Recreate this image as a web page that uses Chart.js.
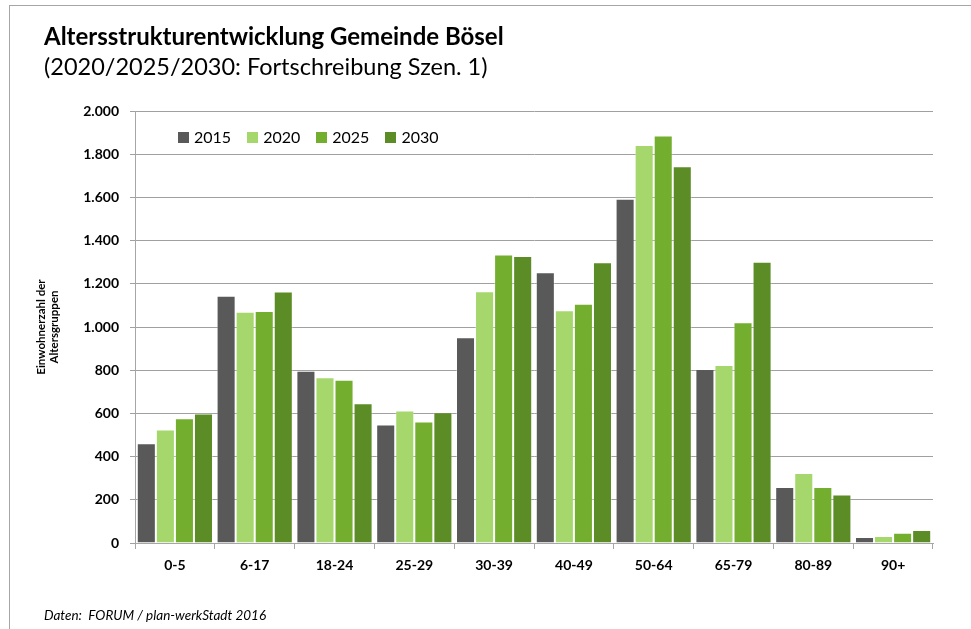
<!DOCTYPE html>
<html>
<head>
<meta charset="utf-8">
<script src="https://cdn.jsdelivr.net/npm/chart.js@4"></script>
<style>
  body { margin: 0; background: #fff; font-family: Lato, "Open Sans", sans-serif; }
  #wrap { position: relative; width: 971px; height: 629px; overflow: hidden; }
  #frame { position: absolute; left: 9px; top: 5px; width: 980px; height: 640px;
           border-left: 1px solid #a6a6a6; border-top: 1px solid #a6a6a6; }
  #title { position: absolute; left: 44px; top: 21px; font-size: 24px; font-weight: bold; color: #000; }
  #subtitle { position: absolute; left: 44px; top: 52px; font-size: 23.5px; color: #000; }
  #legend { position: absolute; left: 178px; top: 127px; font-size: 16px; color: #000; }
  #legend span.item { display: inline-block; margin-right: 16px; }
  #legend span.box { display: inline-block; width: 11px; height: 11px; margin-right: 5px; vertical-align: 0px; }
  #source { position: absolute; left: 44px; top: 607px; font-size: 13.5px; font-style: italic; color: #000; }
  canvas { position: absolute; left: 0; top: 0; }
</style>
</head>
<body>
<div id="wrap">
  <div id="frame"></div>
  <canvas id="chart" width="971" height="629"></canvas>
  <div id="title">Altersstrukturentwicklung Gemeinde Bösel</div>
  <div id="subtitle">(2020/2025/2030: Fortschreibung Szen. 1)</div>
  <div id="legend"></div>
  <div id="source">Daten:&nbsp; FORUM / plan-werkStadt 2016</div>
</div>
<script>
const ageGroups = ['0-5', '6-17', '18-24', '25-29', '30-39', '40-49', '50-64', '65-79', '80-89', '90+'];
const years = ['2015', '2020', '2025', '2030'];
const values2015 = [462, 1145, 798, 549, 952, 1253, 1594, 806, 259, 28];
const values2020 = [526, 1071, 767, 614, 1165, 1077, 1843, 824, 324, 32];
const values2025 = [577, 1074, 756, 562, 1336, 1108, 1886, 1022, 259, 48];
const values2030 = [599, 1164, 647, 605, 1329, 1300, 1744, 1302, 225, 60];
const colors = ['#595959', '#a5d76c', '#73ae2f', '#5b8c25'];

const seriesValues = [values2015, values2020, values2025, values2030];

// legend as html, drawn inside the plot area
const legend = document.getElementById('legend');
years.forEach(function(year, i) {
    const item = document.createElement('span');
    item.className = 'item';
    const box = document.createElement('span');
    box.className = 'box';
    box.style.background = colors[i];
    item.appendChild(box);
    item.appendChild(document.createTextNode(year));
    legend.appendChild(item);
});

const ctx = document.getElementById('chart').getContext('2d');
new Chart(ctx, {
    type: 'bar',
    data: {
        labels: ageGroups,
        datasets: years.map(function(year, i) {
            return {
                label: year,
                data: seriesValues[i],
                backgroundColor: colors[i],
                borderColor: 'rgba(255,255,255,0.35)',
                borderWidth: 1,
                barPercentage: 1.0,
                categoryPercentage: 0.955
            };
        })
    },
    options: {
        responsive: false,
        animation: false,
        locale: 'de-DE',
        layout: { padding: { left: 34, right: 38, top: 111, bottom: 0 } },
        plugins: {
            legend: { display: false },
            tooltip: { enabled: false }
        },
        scales: {
            x: {
                grid: { drawOnChartArea: false, drawTicks: true, tickLength: 6, color: '#a6a6a6' },
                border: { color: '#a6a6a6', width: 1 },
                ticks: { color: '#000', font: { family: 'Lato', size: 14, weight: 'bold' }, padding: 8 },
                afterFit: function(scale) { scale.height = 86; }
            },
            y: {
                min: 0,
                max: 2000,
                ticks: { stepSize: 200, color: '#000', font: { family: 'Lato', size: 14, weight: 'bold' }, padding: 11 },
                grid: { color: '#a0a0a0', lineWidth: 1, tickLength: 5 },
                border: { color: '#a6a6a6', width: 1 },
                title: {
                    display: true,
                    text: ['Einwohnerzahl der', 'Altersgruppen'],
                    color: '#000',
                    font: { family: 'Lato', size: 11.5, weight: 'bold' },
                    padding: { top: 0, bottom: 0 }
                },
                afterFit: function(scale) { scale.width = 101; }
            }
        }
    }
});
</script>
</body>
</html>
